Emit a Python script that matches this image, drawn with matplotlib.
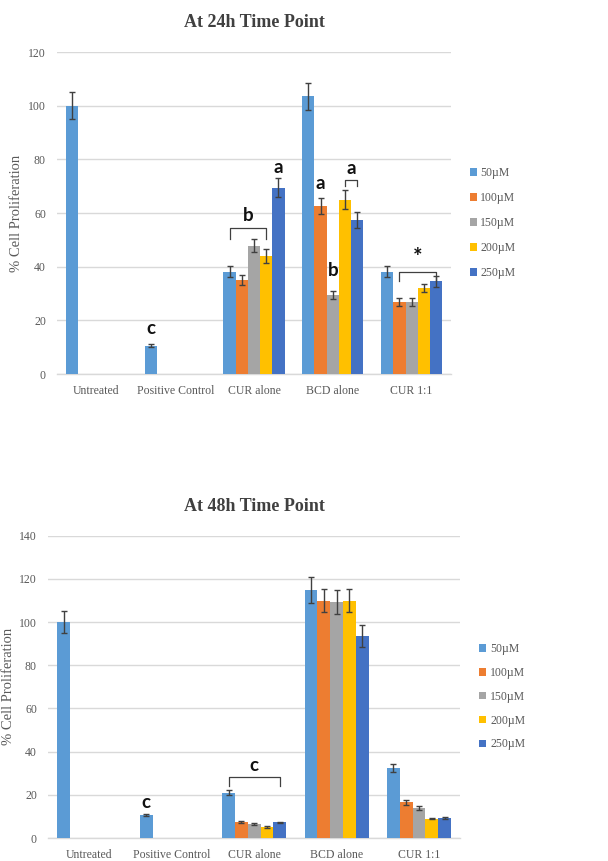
import numpy as np
import matplotlib

matplotlib.use("Agg")
import matplotlib.pyplot as plt

plt.rcParams.update(
    {
        "font.family": "serif",
        "font.serif": ["Liberation Serif", "DejaVu Serif"],
        "figure.facecolor": "white",
        "axes.facecolor": "white",
    }
)

categories = ["Untreated", "Positive Control", "CUR alone", "BCD alone", "CUR 1:1"]
series = ["50\u00b5M", "100\u00b5M", "150\u00b5M", "200\u00b5M", "250\u00b5M"]
colors = ["#5B9BD5", "#ED7D31", "#A5A5A5", "#FFC000", "#4472C4"]
nan = np.nan

# 24h: rows = series, cols = categories
vals_24 = [
    [100, 10.5, 38.2, 103.5, 38.2],
    [nan, nan, 35.0, 62.5, 27.0],
    [nan, nan, 47.8, 29.5, 27.0],
    [nan, nan, 44.0, 65.0, 32.0],
    [nan, nan, 69.5, 57.5, 34.5],
]
err_24 = [
    [5.0, 0.6, 2.0, 5.0, 2.0],
    [nan, nan, 2.0, 3.0, 1.5],
    [nan, nan, 2.5, 1.5, 1.5],
    [nan, nan, 2.5, 3.5, 1.5],
    [nan, nan, 3.5, 3.0, 2.0],
]

vals_48 = [
    [100, 10.5, 21.0, 115.0, 32.5],
    [nan, nan, 7.5, 110.0, 16.5],
    [nan, nan, 6.5, 109.5, 14.0],
    [nan, nan, 5.0, 110.0, 9.0],
    [nan, nan, 7.2, 93.5, 9.3],
]
err_48 = [
    [5.0, 0.5, 1.2, 6.0, 1.8],
    [nan, nan, 0.4, 5.5, 1.0],
    [nan, nan, 0.4, 5.5, 0.8],
    [nan, nan, 0.4, 5.5, 0.4],
    [nan, nan, 0.4, 5.0, 0.5],
]

# significance letters: (category, series index, y, text)
letters_24 = [(1, 0, 17, "c"), (2, 1.5, 59, "b"), (2, 4, 77, "a"),
              (3, 1, 71, "a"), (3, 2, 38.5, "b"), (3, 3.5, 76.5, "a"), (4, 2.5, 43.5, "*")]
# brackets: (category, first series, last series, top y, drop)
brackets_24 = [(2, 0, 3, 54.5, 4.0), (3, 3, 4, 72.4, 2.5), (4, 1, 4, 38.0, 3.3)]
letters_48 = [(1, 0, 16.3, "c"), (2, 2, 33.8, "c")]
brackets_48 = [(2, 0, 4, 28.2, 4.0)]

BAR_W = 0.155
GRID = "#d9d9d9"
TXT = "#595959"


def pos(cat, s):
    return cat + (s - 2) * BAR_W


def draw(ax, vals, errs, ymax, title, letters, brackets, leg_anchor, leg_dy, ylab_x):
    x = np.arange(len(categories))
    for i, (name, c) in enumerate(zip(series, colors)):
        v = np.array(vals[i], dtype=float)
        e = np.array(errs[i], dtype=float)
        m = ~np.isnan(v)
        ax.bar(x[m] + (i - 2) * BAR_W, v[m], BAR_W, color=c, label=name, zorder=3)
        ax.errorbar(x[m] + (i - 2) * BAR_W, v[m], yerr=e[m], fmt="none",
                    ecolor="#404040", elinewidth=1.0, capsize=2.5, capthick=1.0, zorder=4)
    ax.set_xlim(-0.5, len(categories) - 0.5)
    ax.set_ylim(0, ymax)
    ax.set_yticks(np.arange(0, ymax + 1, 20))
    ax.set_xticks(x)
    ax.set_xticklabels(categories)
    ax.tick_params(length=0, labelsize=8.5, labelcolor=TXT, pad=8)
    ax.grid(axis="y", color=GRID, linewidth=1.0, zorder=0)
    for sp in ("top", "right", "left"):
        ax.spines[sp].set_visible(False)
    ax.spines["bottom"].set_color(GRID)
    ax.spines["bottom"].set_linewidth(1.0)
    ax.set_ylabel("% Cell Proliferation", fontsize=10.5, color=TXT)
    ax.yaxis.set_label_coords(ylab_x, 0.5)
    ax.set_title(title, fontsize=13, fontweight="bold", color="#404040", pad=18)

    for cat, s, y, t in letters:
        ax.text(pos(cat, s), y, t, ha="center", va="center",
                fontsize=16 if t == "*" else 13.5,
                fontweight="bold", family=["Lato", "DejaVu Sans"], color="#111111", zorder=5)
    for cat, s0, s1, y, d in brackets:
        x0, x1 = pos(cat, s0), pos(cat, s1)
        ax.plot([x0, x0, x1, x1], [y - d, y, y, y - d], color="#404040",
                linewidth=0.9, zorder=5, clip_on=False)

    handles, labels = ax.get_legend_handles_labels()
    leg = ax.legend(handles, labels, loc="upper left", bbox_to_anchor=leg_anchor,
                    frameon=False, fontsize=8.5, handlelength=0.6, handleheight=0.6,
                    handletextpad=0.3, labelspacing=leg_dy, borderaxespad=0)
    for t in leg.get_texts():
        t.set_color(TXT)


fig = plt.figure(figsize=(6.08, 8.61), dpi=100)
ax1 = fig.add_axes([0.0938, 0.5656, 0.648, 0.374])
ax2 = fig.add_axes([0.079, 0.0267, 0.678, 0.351])

draw(ax1, vals_24, err_24, 120, "At 24h Time Point", letters_24, brackets_24,
     (1.035, 0.657), 1.1, -0.086)
draw(ax2, vals_48, err_48, 140, "At 48h Time Point", letters_48, brackets_48,
     (1.035, 0.66), 1.0, -0.080)

fig.savefig("out.png", dpi=100)
